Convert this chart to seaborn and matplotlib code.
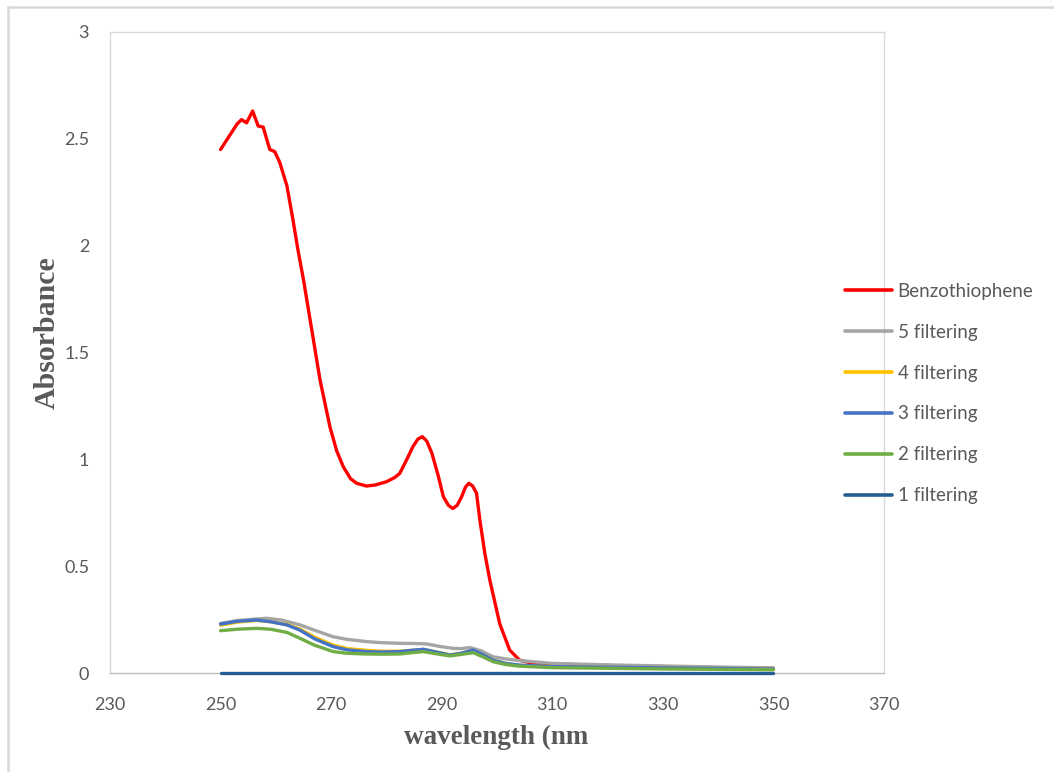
import matplotlib
matplotlib.use("Agg")
import matplotlib.pyplot as plt
from matplotlib.lines import Line2D
import seaborn as sns
import pandas as pd

# ---- data ----
benzo_x = [250, 251, 252, 253, 253.8, 254.7, 255.8, 256.8, 257.7, 258.9, 259.8, 260.7, 262, 263.1,
           264, 265, 266.5, 268, 269.8, 271, 272.2, 273.5, 274.6, 276.4, 278, 280, 281.5, 282.4,
           283.7, 284.8, 285.7, 286.5, 287.3, 288.2, 289.3, 290.3, 291.2, 292, 292.8, 293.6, 294.3,
           294.9, 295.6, 296.3, 296.9, 297.8, 298.7, 300.5, 302.3, 304.1, 306, 310, 320, 330, 340, 350]
benzo_y = [2.45, 2.49, 2.53, 2.57, 2.59, 2.575, 2.63, 2.56, 2.555, 2.45, 2.44, 2.39, 2.28, 2.12,
           1.98, 1.84, 1.605, 1.37, 1.15, 1.04, 0.965, 0.91, 0.888, 0.875, 0.88, 0.895, 0.915, 0.934,
           1.0, 1.06, 1.095, 1.106, 1.085, 1.03, 0.93, 0.825, 0.785, 0.77, 0.785, 0.825, 0.87,
           0.888, 0.875, 0.841, 0.716, 0.56, 0.435, 0.23, 0.107, 0.06, 0.048, 0.042, 0.035, 0.03, 0.025, 0.022]

f5_x = [250, 253, 256, 258.3, 261, 264.4, 267, 270.3, 273, 276.4, 279, 282.4, 285, 287.3, 289.5,
        292.1, 293.5, 295.1, 297, 299.3, 301.5, 304.1, 310, 320, 330, 340, 350]
f5_y = [0.232, 0.245, 0.252, 0.256, 0.248, 0.225, 0.2, 0.17, 0.157, 0.147, 0.142, 0.139, 0.138, 0.136,
        0.125, 0.115, 0.114, 0.119, 0.105, 0.076, 0.066, 0.058, 0.045, 0.038, 0.033, 0.028, 0.024]

f_x = [250, 253, 256.5, 259, 262, 264.4, 267, 270.4, 273, 276.4, 279, 282.4, 284.5, 286.7, 289,
       291.5, 293.5, 295.7, 297.5, 299.3, 301.5, 304, 310, 320, 330, 340, 350]
f4_y = [0.224, 0.238, 0.246, 0.24, 0.227, 0.205, 0.168, 0.13, 0.114, 0.106, 0.102, 0.102, 0.106, 0.11,
        0.098, 0.085, 0.092, 0.106, 0.085, 0.06, 0.045, 0.036, 0.03, 0.026, 0.023, 0.02, 0.017]
f3_y = [0.229, 0.242, 0.248, 0.24, 0.225, 0.2, 0.16, 0.123, 0.108, 0.1, 0.098, 0.1, 0.106, 0.111,
        0.098, 0.084, 0.092, 0.108, 0.085, 0.06, 0.045, 0.037, 0.03, 0.027, 0.024, 0.021, 0.018]
f2_y = [0.198, 0.205, 0.209, 0.205, 0.19, 0.162, 0.13, 0.1, 0.092, 0.089, 0.088, 0.089, 0.095, 0.1,
        0.09, 0.08, 0.087, 0.095, 0.075, 0.053, 0.04, 0.032, 0.025, 0.022, 0.019, 0.017, 0.015]

f1_x = [250, 275, 300, 325, 350]
f1_y = [0.001, 0.001, 0.001, 0.001, 0.001]

series_names = ["Benzothiophene", "5 filtering", "4 filtering", "3 filtering", "2 filtering", "1 filtering"]
x_ticks = [230, 250, 270, 290, 310, 330, 350, 370]
y_ticks = [0, 0.5, 1, 1.5, 2, 2.5, 3]

frames = []
for name, xs, ys in zip(series_names,
                        [benzo_x, f5_x, f_x, f_x, f_x, f1_x],
                        [benzo_y, f5_y, f4_y, f3_y, f2_y, f1_y]):
    frames.append(pd.DataFrame({"wavelength": xs, "absorbance": ys, "series": name}))
df = pd.concat(frames, ignore_index=True)

palette = {"Benzothiophene": "#FF0000", "5 filtering": "#A5A5A5", "4 filtering": "#FFC000",
           "3 filtering": "#4472C4", "2 filtering": "#70AD47", "1 filtering": "#255E91"}

sns.set_theme(style="white")
plt.rcParams["font.family"] = ["Lato", "DejaVu Sans"]

fig = plt.figure(figsize=(10.54, 7.72), dpi=100)
ax = fig.add_axes([110 / 1054, 1 - 673 / 772, 774 / 1054, 641 / 772])

sns.lineplot(data=df, x="wavelength", y="absorbance", hue="series", hue_order=series_names,
             palette=palette, linewidth=2.4, ax=ax, legend=False, estimator=None)
for ln in ax.lines:
    ln.set_clip_on(False)
    ln.set_zorder(3)

ax.set_xlim(230, 370)
ax.set_ylim(0, 3)
ax.set_xticks(x_ticks)
ax.set_yticks(y_ticks)
ax.set_yticklabels(["%g" % v for v in y_ticks])
ax.tick_params(axis="both", length=0, labelsize=13, labelcolor="#595959")
ax.tick_params(axis="y", pad=15)
ax.tick_params(axis="x", pad=17)

for side in ["left", "top", "right"]:
    ax.spines[side].set_color("#D9D9D9")
    ax.spines[side].set_linewidth(1.0)
ax.spines["bottom"].set_color("#BFBFBF")
ax.spines["bottom"].set_linewidth(1.0)

ax.set_xlabel("wavelength (nm", family="Liberation Serif", fontweight="bold", fontsize=19.5,
              color="#595959", va="center", ha="center")
ax.set_ylabel("Absorbance", family="Liberation Serif", fontweight="bold", fontsize=21.5,
              color="#595959", va="center", ha="center")
ax.xaxis.set_label_coords((496 - 110) / 774, (673 - 737) / 641)
ax.yaxis.set_label_coords((47 - 110) / 774, (673 - 333) / 641)

handles = [Line2D([0], [0], color=palette[n], linewidth=2.6) for n in series_names]
leg = fig.legend(handles, series_names, loc="upper left",
                 bbox_to_anchor=(845 / 1054, 1 - 283 / 772), frameon=False,
                 fontsize=13.5, handlelength=2.5, handletextpad=0.3, labelspacing=1.27,
                 borderpad=0, borderaxespad=0)
for t in leg.get_texts():
    t.set_color("#595959")

# chart-area border (top and left visible in the reference)
fig.add_artist(Line2D([8 / 1054, 8 / 1054], [0, 1 - 7 / 772], transform=fig.transFigure,
                      color="#D9D9D9", linewidth=1.8))
fig.add_artist(Line2D([8 / 1054, 1], [1 - 7 / 772, 1 - 7 / 772], transform=fig.transFigure,
                      color="#D9D9D9", linewidth=1.8))

fig.savefig("out.png", dpi=100)
